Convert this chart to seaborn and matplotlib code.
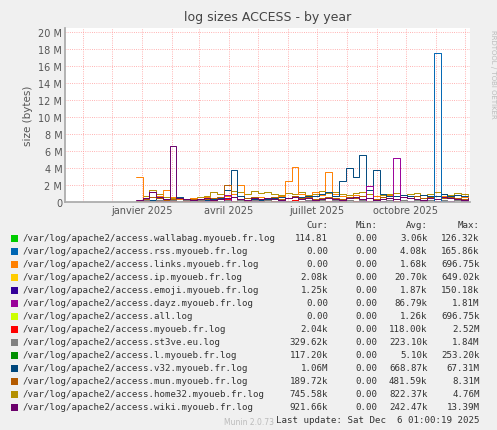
import matplotlib
matplotlib.use("Agg")
import matplotlib.pyplot as plt
import seaborn as sns
import pandas as pd
import matplotlib.dates as mdates

sns.set_theme(style="white")
plt.rcParams['font.family'] = ['DejaVu Sans']

dates = pd.date_range("2024-12-26", periods=50, freq="7D")

names = ["wallabag", "rss", "links", "ip", "emoji", "dayz", "all", "myoueb", "st3ve", "l", "v32", "mun", "home32", "wiki"]
labels = ["/var/log/apache2/access.wallabag.myoueb.fr.log", "/var/log/apache2/access.rss.myoueb.fr.log",
          "/var/log/apache2/access.links.myoueb.fr.log", "/var/log/apache2/access.ip.myoueb.fr.log",
          "/var/log/apache2/access.emoji.myoueb.fr.log", "/var/log/apache2/access.dayz.myoueb.fr.log",
          "/var/log/apache2/access.all.log", "/var/log/apache2/access.myoueb.fr.log",
          "/var/log/apache2/access.st3ve.eu.log", "/var/log/apache2/access.l.myoueb.fr.log",
          "/var/log/apache2/access.v32.myoueb.fr.log", "/var/log/apache2/access.mun.myoueb.fr.log",
          "/var/log/apache2/access.home32.myoueb.fr.log", "/var/log/apache2/access.wiki.myoueb.fr.log"]
colors = ["#00CC00", "#0066B3", "#FF8000", "#FFCC00", "#330099", "#990099", "#CCFF00", "#FF0000",
          "#808080", "#008F00", "#00487D", "#B35A00", "#B38F00", "#6B006B"]
cur = ["114.81", "0.00", "0.00", "2.08k", "1.25k", "0.00", "0.00", "2.04k", "329.62k", "117.20k", "1.06M", "189.72k", "745.58k", "921.66k"]
mins = ["0.00"] * 14
avgs = ["3.06k", "4.08k", "1.68k", "20.70k", "1.87k", "86.79k", "1.26k", "118.00k", "223.10k", "5.10k", "668.87k", "481.59k", "822.37k", "242.47k"]
maxs = ["126.32k", "165.86k", "696.75k", "649.02k", "150.18k", "1.81M", "696.75k", "2.52M", "1.84M", "253.20k", "67.31M", "8.31M", "4.76M", "13.39M"]

# values in millions
home32 = [0.2,0.8,1.5,1.0,0.6,0.5,0.4,0.3,0.5,0.6, 0.7,1.2,1.0,0.8,1.4,1.2,1.0,1.3,1.1,1.2,
          1.0,0.9,1.1,1.0,1.2,0.9,1.0,1.3,1.1,1.2, 1.0,0.9,1.1,1.2,1.0,0.8,0.9,1.0,1.1,0.9,
          1.0,1.1,0.9,1.0,1.2,1.0,0.9,1.1,1.0,0.9]
links = [3.0,0.5,1.2,0.8,1.5,0.6,0.4,0.3,0.5,0.4, 0.6,0.5,0.4,0.8,1.0,2.0,0.5,0.4,0.6,0.3,
         0.5,0.8,2.5,4.2,1.0,0.8,1.2,0.9,3.6,1.0, 0.8,0.6,0.9,0.7,0.5,0.8,0.6,0.9,0.7,0.6,
         0.8,0.7,0.9,0.6,0.8,0.7,0.5,0.9,0.6,0.8]
wiki = [0.3,0.5,1.2,0.6,0.4,6.6,0.5,0.4,0.3,0.4, 0.5,0.3,0.4,0.5,0.6,0.4,0.3,0.5,0.4,0.5,
        0.4,0.3,0.5,0.6,0.4,0.5,0.3,0.4,0.5,0.4, 0.3,0.5,0.6,0.4,0.5,0.3,0.4,0.5,0.4,0.6,
        0.5,0.4,0.3,0.5,0.4,0.6,0.5,0.4,0.3,0.5]
v32 = [0.1,0.2,0.3,0.5,0.4,0.3,0.6,0.4,0.3,0.2, 0.3,0.4,0.5,1.5,3.8,0.8,0.5,0.4,0.3,0.4,
       0.5,0.6,0.5,0.8,0.6,0.7,0.8,1.0,1.2,0.8, 2.5,4.0,3.0,5.6,1.5,3.8,1.0,0.8,0.7,0.9,
       0.8,0.7,0.9,0.8,0.7,1.0,0.8,0.9,0.7,0.8]
rss = [0.0,0.0,0.1,0.0,0.0,0.1,0.0,0.0,0.1,0.0, 0.0,0.1,0.0,0.0,0.1,0.0,0.0,0.1,0.0,0.0,
       0.1,0.0,0.0,0.1,0.0,0.0,0.1,0.0,0.0,0.1, 0.0,0.0,0.1,0.0,0.0,0.1,0.0,0.0,0.1,0.0,
       0.0,0.1,0.0,0.0,17.6,0.2,0.1,0.0,0.1,0.0]
dayz = [0.0,0.1,0.0,0.1,0.2,0.1,0.0,0.1,0.0,0.1, 0.2,0.1,0.0,0.9,0.1,0.0,0.1,0.2,0.1,0.0,
        0.1,0.2,0.1,0.0,0.1,0.2,0.1,0.0,0.1,0.2, 0.1,0.0,0.1,0.2,1.9,0.1,0.2,0.1,5.2,0.1,
        0.2,0.1,0.2,0.1,0.2,0.1,0.2,0.1,0.2,0.1]
mun = [0.2,0.4,0.6,0.5,0.3,0.4,0.5,0.3,0.4,0.3, 0.4,0.5,0.6,2.1,0.6,0.4,0.5,0.6,0.4,0.5,
       0.6,0.4,0.5,0.7,0.5,0.6,0.4,0.5,0.6,0.5, 0.4,0.6,0.5,0.7,0.5,0.4,0.6,0.5,0.4,0.6,
       0.5,0.7,0.5,0.6,0.4,0.5,0.6,0.5,0.4,0.5]
myoueb = [0.1,0.2,0.1,0.2,0.1,0.2,0.1,0.2,0.1,0.2, 0.1,0.2,0.1,0.4,0.2,0.1,0.2,0.1,0.2,0.1,
          0.2,0.1,0.2,0.3,0.2,0.1,0.2,0.1,0.2,0.1, 0.2,0.1,0.2,0.1,0.2,0.1,0.2,0.1,0.2,0.1,
          0.2,0.1,0.2,0.1,0.2,0.1,0.2,0.1,0.2,0.1]
st3ve = [0.1,0.3,0.2,0.3,0.2,0.3,0.2,0.3,0.2,0.3, 0.2,0.3,0.2,0.3,0.2,0.3,0.2,0.3,0.2,0.3,
         0.2,0.3,0.2,0.3,0.2,0.3,0.2,0.3,0.2,0.3, 0.2,0.3,0.2,0.3,0.2,0.3,0.2,0.3,0.2,0.3,
         0.2,0.3,0.2,0.3,0.2,0.3,0.2,0.3,0.3,0.3]

series = {"home32": home32, "links": links, "v32": v32, "mun": mun, "st3ve": st3ve,
          "myoueb": myoueb, "dayz": dayz, "wiki": wiki, "rss": rss}

fig = plt.figure(figsize=(4.97, 4.31), dpi=100, facecolor="#F0F0F0")
ax = fig.add_axes([0.131, 0.528, 0.814, 0.405])
ax.set_facecolor("white")
for key, vals in series.items():
    i = names.index(key)
    df = pd.DataFrame({"date": dates, "v": [v * 1e6 for v in vals]})
    sns.lineplot(data=df, x="date", y="v", ax=ax, color=colors[i], lw=0.7, drawstyle="steps-post", legend=False)

ax.set_xlim(pd.Timestamp("2024-10-14"), pd.Timestamp("2025-12-06"))
ax.set_ylim(0, 20.5e6)
ax.set_yticks([i * 2e6 for i in range(11)])
ax.set_yticklabels(["0"] + [f"{2*i} M" for i in range(1, 11)], fontsize=7, color="#555555")
ticks = [pd.Timestamp(d) for d in ["2025-01-01", "2025-04-01", "2025-07-01", "2025-10-01"]]
ax.set_xticks(ticks)
ax.set_xticklabels(["janvier 2025", "avril 2025", "juillet 2025", "octobre 2025"], fontsize=7, color="#555555")
ax.xaxis.set_minor_locator(mdates.MonthLocator())
ax.grid(True, which="both", color="#FF9999", ls=":", lw=0.6)
ax.tick_params(length=0, pad=2)
ax.set_xlabel("")
ax.set_ylabel("size (bytes)", fontsize=7.5, color="#555555")
for s in ["top", "right"]:
    ax.spines[s].set_visible(False)
ax.spines["left"].set_color("#AAAAAA")
ax.spines["bottom"].set_color("#AAAAAA")
ax.set_title("log sizes ACCESS - by year", fontsize=9, color="#444444", pad=6)

fig.text(0.985, 0.93, "RRDTOOL / TOBI OETIKER", rotation=270, fontsize=5, color="#BBBBBB", va="top")

mono = dict(family="DejaVu Sans Mono", fontsize=6.6, color="#333333")
top = 0.488
fig.text(0.66, top + 0.0, "Cur:", ha="right", va="top", **mono)
fig.text(0.76, top, "Min:", ha="right", va="top", **mono)
fig.text(0.86, top, "Avg:", ha="right", va="top", **mono)
fig.text(0.965, top, "Max:", ha="right", va="top", **mono)
dy = 0.0302
for i in range(14):
    y = top - dy * (i + 1)
    fig.patches.append(plt.Rectangle((0.022, y - 0.021), 0.014, 0.016, transform=fig.transFigure,
                                     facecolor=colors[i], edgecolor="none"))
    fig.text(0.045, y, labels[i], ha="left", va="top", **mono)
    fig.text(0.66, y, cur[i], ha="right", va="top", **mono)
    fig.text(0.76, y, mins[i], ha="right", va="top", **mono)
    fig.text(0.86, y, avgs[i], ha="right", va="top", **mono)
    fig.text(0.965, y, maxs[i], ha="right", va="top", **mono)
fig.text(0.965, top - dy * 15, "Last update: Sat Dec  6 01:00:19 2025", ha="right", va="top", **mono)
fig.text(0.5, 0.015, "Munin 2.0.73", ha="center", fontsize=5.5, color="#BBBBBB")

fig.savefig("out.png", dpi=100, facecolor=fig.get_facecolor())
